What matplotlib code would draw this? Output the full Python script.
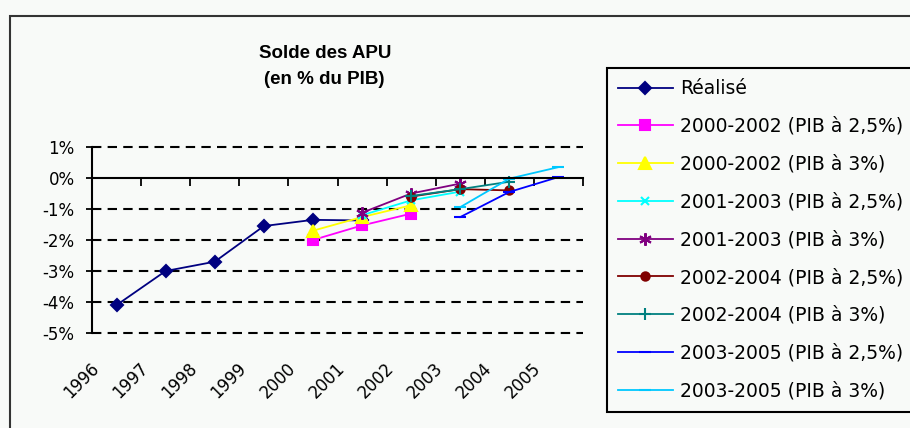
import numpy as np
import matplotlib.pyplot as plt
import matplotlib.transforms as mtransforms
from matplotlib.patches import Rectangle

nan = np.nan

# Data (solde des APU, en % du PIB)
years = ['1996', '1997', '1998', '1999', '2000', '2001', '2002', '2003', '2004', '2005']
realise = [-4.1, -3.0, -2.7, -1.55, -1.35, -1.37, nan, nan, nan, nan]
p0002_25 = [nan, nan, nan, nan, -2.0, -1.53, -1.15, nan, nan, nan]
p0002_3 = [nan, nan, nan, nan, -1.7, -1.26, -0.88, nan, nan, nan]
p0103_25 = [nan, nan, nan, nan, nan, -1.2, -0.72, -0.44, nan, nan]
p0103_3 = [nan, nan, nan, nan, nan, -1.12, -0.5, -0.18, nan, nan]
p0204_25 = [nan, nan, nan, nan, nan, nan, -0.6, -0.36, -0.4, nan]
p0204_3 = [nan, nan, nan, nan, nan, nan, -0.58, -0.36, -0.12, nan]
p0305_25 = [nan, nan, nan, nan, nan, nan, nan, -1.26, -0.45, 0.03]
p0305_3 = [nan, nan, nan, nan, nan, nan, nan, -0.94, -0.02, 0.35]

yticks = [1, 0, -1, -2, -3, -4, -5]
ylabels = ['1%', '0%', '-1%', '-2%', '-3%', '-4%', '-5%']

bg = '#f8faf8'
fig = plt.figure(figsize=(9.1, 4.28), dpi=100, facecolor=bg)
fig.patches.append(Rectangle((10 / 910, -0.1), 1.0, 1 - 16 / 428 + 0.1, transform=fig.transFigure,
                             fill=False, edgecolor='#333333', linewidth=1.5))

ax = fig.add_axes([92 / 910, 1 - 333 / 428, (583 - 92) / 910, (333 - 147) / 428])
ax.set_facecolor(bg)

x = np.arange(len(years))
series = [
    (realise, 'Réalisé', '#000080', 'D', 6),
    (p0002_25, '2000-2002 (PIB à 2,5%)', '#ff00ff', 's', 7),
    (p0002_3, '2000-2002 (PIB à 3%)', '#ffff00', '^', 8),
    (p0103_25, '2001-2003 (PIB à 2,5%)', '#00ffff', 'x', 6),
    (p0103_3, '2001-2003 (PIB à 3%)', '#800080', (6, 2, 0), 9),
    (p0204_25, '2002-2004 (PIB à 2,5%)', '#800000', 'o', 6),
    (p0204_3, '2002-2004 (PIB à 3%)', '#008080', '+', 9),
    (p0305_25, '2003-2005 (PIB à 2,5%)', '#0000ff', '_', 8),
    (p0305_3, '2003-2005 (PIB à 3%)', '#00c8ff', '_', 8),
]
for vals, lab, col, mk, ms in series:
    ax.plot(x, vals, color=col, marker=mk, markersize=ms, linewidth=1.3,
            markeredgecolor=col, markeredgewidth=1.5, label=lab)

ax.set_xlim(-0.5, 9.5)
ax.set_ylim(-5, 1)

# dashed gridlines
for v in yticks:
    if v != 0:
        ax.axhline(v, color='black', linestyle=(0, (4.5, 3)), linewidth=1.5, zorder=0, clip_on=False)

for s in ['top', 'right']:
    ax.spines[s].set_visible(False)
ax.spines['left'].set_linewidth(1.5)
ax.spines['bottom'].set_position(('data', 0))
ax.spines['bottom'].set_linewidth(1.5)

ax.set_yticks(yticks)
ax.set_yticklabels(ylabels, fontsize=12, family='DejaVu Sans')
ax.tick_params(axis='y', direction='inout', length=9, width=1.3, pad=8)

ax.set_xticks(np.arange(-0.5, 10, 1))
ax.set_xticklabels([])
ax.tick_params(axis='x', direction='out', length=6, width=1.3)

sec = ax.secondary_xaxis('bottom')
sec.set_xticks(x)
sec.set_xticklabels(years, rotation=45, ha='right', va='top', fontsize=12, family='DejaVu Sans')
sec.tick_params(length=0, pad=19)
sec.spines['bottom'].set_visible(False)
off = mtransforms.ScaledTranslation(-0.14, 0, fig.dpi_scale_trans)
for lbl in sec.get_xticklabels():
    lbl.set_transform(lbl.get_transform() + off)

fig.text(325 / 910, 1 - 53 / 428, 'Solde des APU', ha='center', va='center',
         fontsize=13.5, fontweight='bold', family='Liberation Sans')
fig.text(324 / 910, 1 - 79 / 428, '(en % du PIB)', ha='center', va='center',
         fontsize=13.5, fontweight='bold', family='Liberation Sans')

leg = fig.legend(loc='upper left', bbox_to_anchor=(607 / 910, 1 - 68 / 428),
                 prop={'family': 'DejaVu Sans', 'size': 13.5},
                 handlelength=2.9, handletextpad=0.4, labelspacing=1.0,
                 borderpad=0.6, borderaxespad=0, fancybox=False,
                 edgecolor='black', facecolor=bg, framealpha=1)
leg.get_frame().set_linewidth(1.5)

fig.savefig('out.png', dpi=100, facecolor=bg)
